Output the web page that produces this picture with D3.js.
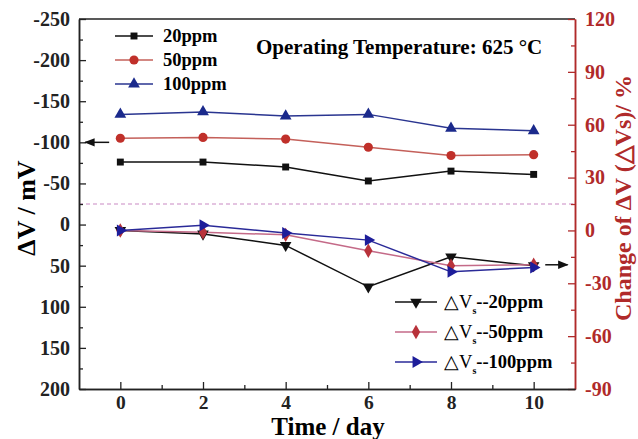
<!DOCTYPE html>
<html>
<head>
<meta charset="utf-8">
<script src="https://cdn.jsdelivr.net/npm/d3@7"></script>
<style>
  body { margin: 0; background: #fff; }
  text { font-family: "Liberation Serif", "Times New Roman", serif; font-weight: bold; }
</style>
</head>
<body>
<script>
// time in days
var days = [0, 2, 4, 6, 8, 10];
// delta V (mV), left axis
var dv20 = [-76, -76, -70, -53, -65, -61];
var dv50 = [-105, -106, -104, -94, -84, -85];
var dv100 = [-134, -137, -132, -134, -117, -114];
// change of delta V (%), right axis
var chg20 = [0, -2, -8.5, -32, -15, -20];
var chg50 = [0, -1, -2.5, -11.5, -20, -19.5];
var chg100 = [0, 3, -1.5, -5.5, -23.5, -21];

var leftTicks = [-250, -200, -150, -100, -50, 0, 50, 100, 150, 200];
var rightTicks = [120, 90, 60, 30, 0, -30, -60, -90];
var xTicks = [0, 2, 4, 6, 8, 10];

var width = 638, height = 439;
var margin = { top: 19, right: 63, bottom: 50, left: 79 };
var red = "#b02a2a";
var serif = '"Liberation Serif", "Times New Roman", serif';

var svg = d3.select("body").append("svg")
  .attr("width", width)
  .attr("height", height);

var x = d3.scaleLinear().domain([-1, 11]).range([margin.left, width - margin.right]);
var yL = d3.scaleLinear().domain([-250, 200]).range([margin.top, height - margin.bottom]);
var yR = d3.scaleLinear().domain([120, -90]).range([margin.top, height - margin.bottom]);

var plain = function (d) { return String(d); }; // keep ascii hyphen like the original

// frame top line
svg.append("line")
  .attr("x1", x(-1)).attr("x2", x(11))
  .attr("y1", yL(-250)).attr("y2", yL(-250))
  .attr("stroke", "#222").attr("stroke-width", 1.5);

// dashed reference line
svg.append("line")
  .attr("x1", x(-1)).attr("x2", x(11))
  .attr("y1", yR(15)).attr("y2", yR(15))
  .attr("stroke", "#c98ac4").attr("stroke-width", 1.2)
  .attr("stroke-dasharray", "4,3");

function styleAxis(g, color, size) {
  g.attr("font-family", serif).attr("font-weight", "bold");
  g.select(".domain").attr("stroke", color).attr("stroke-width", 1.5);
  g.selectAll(".tick line").attr("stroke", color).attr("stroke-width", 1.3);
  g.selectAll(".tick text").attr("fill", color)
    .style("font-size", (size || 20) + "px")
    .style("font-family", serif)
    .style("font-weight", "bold");
}

// left axis
var gL = svg.append("g").attr("transform", "translate(" + margin.left + ",0)");
gL.append("g").call(d3.axisLeft(yL).tickValues(d3.range(-225, 200, 50)).tickSize(-4).tickFormat("").tickSizeOuter(0))
  .call(function (g) { styleAxis(g, "#222"); });
gL.append("g").call(d3.axisLeft(yL).tickValues(leftTicks).tickSize(-7).tickPadding(9).tickSizeOuter(0).tickFormat(plain))
  .call(function (g) { styleAxis(g, "#222"); });

// right axis
var gR = svg.append("g").attr("transform", "translate(" + (width - margin.right) + ",0)");
gR.append("g").call(d3.axisRight(yR).tickValues(d3.range(105, -90, -30)).tickSize(-4).tickFormat("").tickSizeOuter(0))
  .call(function (g) { styleAxis(g, red); });
gR.append("g").call(d3.axisRight(yR).tickValues(rightTicks).tickSize(-7).tickPadding(10).tickSizeOuter(0).tickFormat(plain))
  .call(function (g) { styleAxis(g, red); });

// bottom axis
var gX = svg.append("g").attr("transform", "translate(0," + (height - margin.bottom) + ")");
gX.append("g").call(d3.axisBottom(x).tickValues([1, 3, 5, 7, 9]).tickSize(-4).tickFormat("").tickSizeOuter(0))
  .call(function (g) { styleAxis(g, "#222"); });
gX.append("g").call(d3.axisBottom(x).tickValues(xTicks).tickSize(-7).tickPadding(6).tickSizeOuter(0).tickFormat(plain))
  .call(function (g) { styleAxis(g, "#222", 19.5); });

// axis titles
svg.append("text")
  .attr("transform", "translate(35,208) rotate(-90)")
  .attr("text-anchor", "middle")
  .style("font-size", "26px")
  .text("ΔV / mV");

svg.append("text")
  .attr("transform", "translate(631,198) rotate(-90)")
  .attr("text-anchor", "middle")
  .attr("fill", red)
  .style("font-size", "24px")
  .text("Change of ΔV (△Vs)/ %");

svg.append("text")
  .attr("x", 328).attr("y", 435)
  .attr("text-anchor", "middle")
  .style("font-size", "25px")
  .text("Time / day");

svg.append("text")
  .attr("x", 256).attr("y", 54)
  .style("font-size", "21px")
  .text("Operating Temperature: 625 °C");

// series
var series = [
  { vals: dv20, y: yL, line: "#111", fill: "#111", sym: d3.symbolSquare, size: 48, rot: 0 },
  { vals: dv50, y: yL, line: "#c4605a", fill: "#c0302a", sym: d3.symbolCircle, size: 66, rot: 0 },
  { vals: dv100, y: yL, line: "#2a3590", fill: "#1b2a8c", sym: d3.symbolTriangle, size: 60, rot: 0 },
  { vals: chg20, y: yR, line: "#111", fill: "#111", sym: d3.symbolTriangle, size: 58, rot: 180 },
  { vals: chg50, y: yR, line: "#c46a88", fill: "#b8323a", sym: d3.symbolDiamond, size: 60, rot: 0 },
  { vals: chg100, y: yR, line: "#2a2a98", fill: "#1d1d9a", sym: d3.symbolTriangle, size: 62, rot: 90 }
];

series.forEach(function (s) {
  var line = d3.line()
    .x(function (d, i) { return x(days[i]); })
    .y(function (d) { return s.y(d); });
  svg.append("path")
    .datum(s.vals)
    .attr("fill", "none")
    .attr("stroke", s.line)
    .attr("stroke-width", 1.5)
    .attr("d", line);
});
series.forEach(function (s) {
  svg.selectAll(null)
    .data(s.vals)
    .enter().append("path")
    .attr("d", d3.symbol().type(s.sym).size(s.size))
    .attr("transform", function (d, i) {
      return "translate(" + x(days[i]) + "," + s.y(d) + ") rotate(" + s.rot + ")";
    })
    .attr("fill", s.fill);
});

// arrows
var defs = svg.append("defs");
defs.append("marker")
  .attr("id", "ah").attr("viewBox", "0 0 10 10")
  .attr("refX", 9).attr("refY", 5)
  .attr("markerWidth", 7).attr("markerHeight", 7)
  .attr("orient", "auto")
  .append("path").attr("d", "M0,1 L10,5 L0,9 Z").attr("fill", "#111");

svg.append("line")
  .attr("x1", x(-0.27)).attr("x2", x(-0.85))
  .attr("y1", yL(-100)).attr("y2", yL(-100))
  .attr("stroke", "#111").attr("stroke-width", 1.5)
  .attr("marker-end", "url(#ah)");
svg.append("line")
  .attr("x1", x(10.28)).attr("x2", x(10.82))
  .attr("y1", yR(-19.5)).attr("y2", yR(-19.5))
  .attr("stroke", "#111").attr("stroke-width", 1.5)
  .attr("marker-end", "url(#ah)");

// upper legend
var leg1 = [
  { name: "20ppm", s: series[0] },
  { name: "50ppm", s: series[1] },
  { name: "100ppm", s: series[2] }
];
leg1.forEach(function (d, i) {
  var yy = 36 + i * 24;
  svg.append("line").attr("x1", 115).attr("x2", 153).attr("y1", yy).attr("y2", yy)
    .attr("stroke", d.s.line).attr("stroke-width", 1.5);
  svg.append("path").attr("d", d3.symbol().type(d.s.sym).size(d.s.size))
    .attr("transform", "translate(134," + yy + ") rotate(" + d.s.rot + ")")
    .attr("fill", d.s.fill);
  svg.append("text").attr("x", 163).attr("y", yy + 6).style("font-size", "18.5px").text(d.name);
});

// lower legend
var leg2 = [
  { name: "--20ppm", s: series[3] },
  { name: "--50ppm", s: series[4] },
  { name: "--100ppm", s: series[5] }
];
leg2.forEach(function (d, i) {
  var yy = 302 + i * 30;
  svg.append("line").attr("x1", 395).attr("x2", 437).attr("y1", yy).attr("y2", yy)
    .attr("stroke", d.s.line).attr("stroke-width", 1.5);
  svg.append("path").attr("d", d3.symbol().type(d.s.sym).size(d.s.size))
    .attr("transform", "translate(416," + yy + ") rotate(" + d.s.rot + ")")
    .attr("fill", d.s.fill);
  var t = svg.append("text").attr("x", 444).attr("y", yy + 6).style("font-size", "18.5px");
  t.append("tspan").style("font-weight", "normal").text("△V");
  t.append("tspan").attr("dy", 6).style("font-size", "10px").text("s");
  t.append("tspan").attr("dy", -6).text(d.name);
});
</script>
</body>
</html>
